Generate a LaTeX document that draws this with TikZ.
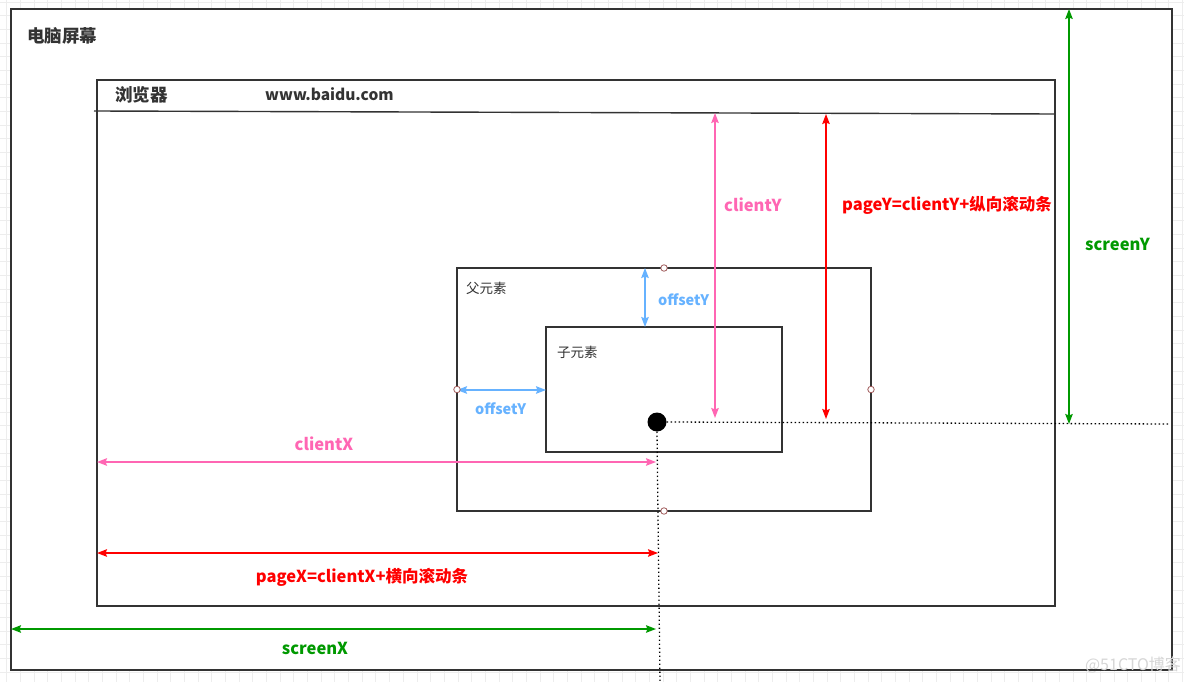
\documentclass[tikz,border=0pt]{standalone}
\usepackage{fontspec}
\setmainfont{Noto Sans CJK SC}
\usetikzlibrary{arrows.meta,calc}
\definecolor{cpink}{HTML}{FF66B3}
\definecolor{cblue}{HTML}{66B2FF}
\definecolor{cred}{HTML}{FF0000}
\definecolor{cgreen}{HTML}{009900}
\definecolor{cline}{HTML}{333333}
\definecolor{cgrid}{HTML}{EDEDED}
\definecolor{cpt}{HTML}{A05A5A}
\tikzset{
  box/.style={draw=cline, line width=1.4pt, inner sep=0pt, outer sep=0pt, anchor=north west},
  dim/.style={line width=1.5pt, {Stealth[length=10pt,width=7.5pt,inset=1.5pt]}-{Stealth[length=10pt,width=7.5pt,inset=1.5pt]}},
  guide/.style={line width=1.3pt, dash pattern=on 1.3pt off 2.7pt, black},
  cpoint/.style={circle, draw=cpt, fill=white, line width=0.8pt, minimum size=6.5pt, inner sep=0pt},
  title/.style={font=\fontsize{17.5}{20}\selectfont\bfseries, text=cline, anchor=west, inner sep=0pt},
  lbl/.style={font=\fontsize{16.5}{19}\selectfont\bfseries, inner sep=0pt},
  small/.style={font=\fontsize{14.5}{17}\selectfont\bfseries, text=cblue, inner sep=0pt},
  elname/.style={font=\fontsize{13.5}{16}\selectfont, text=cline, anchor=west, inner sep=0pt}
}
\begin{document}
\begin{tikzpicture}[x=1pt,y=-1pt]
\useasboundingbox (0,0) rectangle (1184,682);
% background grid
\foreach \i in {0,...,86} {\draw[cgrid, line width=0.6pt] ({6.7+13.67*\i},0) -- ({6.7+13.67*\i},682);}
\foreach \j in {0,...,49} {\draw[cgrid, line width=0.6pt] (0,{2+13.67*\j}) -- (1184,{2+13.67*\j});}
% screen
\node[box, fill=white, minimum width=1161pt, minimum height=661pt] (screen) at (11,9) {};
\node[title] (screenT) at (27,36) {电脑屏幕};
% browser
\node[box, minimum width=958pt, minimum height=526pt] (browser) at (97,80) {};
\coordinate (barL) at (94,111);
\coordinate (barR) at (1055,114);
\draw[cline, line width=1.4pt] (barL) -- (barR);
\node[title] (browserT) at (115,95) {浏览器};
\node[title, font=\fontsize{15.5}{18}\selectfont\bfseries] (url) at (265,94) {www.baidu.com};
% parent and child
\node[box, minimum width=414pt, minimum height=243pt] (parent) at (457,268) {};
\node[elname] (parentT) at (466,288) {父元素};
\node[box, minimum width=236pt, minimum height=125pt] (child) at (546,327) {};
\node[elname] (childT) at (557,352) {子元素};
% mouse point
\node[circle, fill=black, minimum size=19pt, inner sep=0pt] (dot) at (657,422) {};
\coordinate (hEnd) at (1170,424);
\coordinate (vEnd) at (660,682);
\draw[guide] (dot.east) -- (hEnd);
\draw[guide] (dot.south) -- (vEnd);
% offsetY (vertical)
\coordinate (oTop) at (645,268);
\coordinate (oBot) at (645,327);
\draw[dim, cblue] (oTop) -- (oBot);
\node[small, anchor=west] (offY1) at (658,300) {offsetY};
% offsetY (horizontal)
\coordinate (oL) at (457,390);
\coordinate (oR) at (546,390);
\draw[dim, cblue] (oL) -- (oR);
\node[small, anchor=west] (offY2) at (475,409) {offsetY};
% clientY
\coordinate (cyT) at (715,113);
\coordinate (cyB) at (715,418);
\draw[dim, cpink] (cyT) -- (cyB);
\node[lbl, text=cpink, anchor=west] (clientY) at (724,205) {clientY};
% pageY
\coordinate (pyT) at (826,114);
\coordinate (pyB) at (826,419);
\draw[dim, cred] (pyT) -- (pyB);
\node[lbl, text=cred, anchor=west] (pageY) at (842,205) {pageY=clientY+纵向滚动条};
% screenY
\coordinate (syT) at (1069,9);
\coordinate (syB) at (1069,424);
\draw[dim, cgreen] (syT) -- (syB);
\node[lbl, text=cgreen, anchor=west] (screenY) at (1085,244) {screenY};
% clientX
\coordinate (cxL) at (97,462);
\coordinate (cxR) at (656,462);
\draw[dim, cpink] (cxL) -- (cxR);
\node[lbl, text=cpink] (clientX) at (324,444) {clientX};
% pageX
\coordinate (pxL) at (97,553);
\coordinate (pxR) at (658,553);
\draw[dim, cred] (pxL) -- (pxR);
\node[lbl, text=cred] (pageX) at (362,577) {pageX=clientX+横向滚动条};
% screenX
\coordinate (sxL) at (11,629);
\coordinate (sxR) at (656,629);
\draw[dim, cgreen] (sxL) -- (sxR);
\node[lbl, text=cgreen] (screenX) at (315,648) {screenX};
% connection points on parent
\node[cpoint] (pN) at (parent.north) {};
\node[cpoint] (pS) at (parent.south) {};
\node[cpoint] (pW) at (parent.west) {};
\node[cpoint] (pE) at (parent.east) {};
% watermark
\node[font=\fontsize{16}{18}\selectfont, text=black!16, inner sep=0pt] (wm) at (1133,665) {@51CTO博客};
\end{tikzpicture}
\end{document}
